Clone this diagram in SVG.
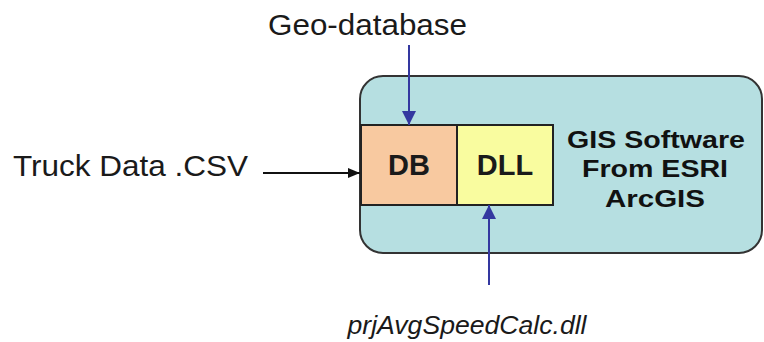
<svg xmlns="http://www.w3.org/2000/svg" width="764" height="342" viewBox="0 0 764 342">
<style>
.lbl{font-family:"Liberation Sans",Arial,sans-serif;fill:#1a1a1a}
.box{stroke:#222;stroke-width:2}
.blue{stroke:#3438a0;stroke-width:2;fill:none}
.blk{stroke:#111;stroke-width:2;fill:none}
</style>
<defs>
<marker id="ab" markerWidth="14" markerHeight="14" refX="14" refY="7" orient="auto" markerUnits="userSpaceOnUse" viewBox="0 0 14 14">
<path d="M0,0 L14,7 L0,14 Z" fill="#3438a0"/>
</marker>
<marker id="ak" markerWidth="12" markerHeight="10" refX="12" refY="5" orient="auto" markerUnits="userSpaceOnUse" viewBox="0 0 12 10">
<path d="M0,0 L12,5 L0,10 Z" fill="#111"/>
</marker>
</defs>
<rect width="764" height="342" fill="#fff"/>
<g id="gis">
<rect x="360" y="76" width="402" height="177" rx="23" ry="23" fill="#b6dfe1" stroke="#333" stroke-width="2"/>
<g font-family="Liberation Sans,Arial,sans-serif" font-weight="bold" font-size="23" fill="#111" text-anchor="middle">
<text x="656" y="148" textLength="178" lengthAdjust="spacingAndGlyphs">GIS Software</text>
<text x="655" y="177" textLength="146" lengthAdjust="spacingAndGlyphs">From ESRI</text>
<text x="655" y="207" textLength="100" lengthAdjust="spacingAndGlyphs">ArcGIS</text>
</g>
</g>
<g id="db">
<rect class="box" x="361" y="125" width="96" height="80" fill="#f8c9a0"/>
<text class="lbl" x="409" y="175" font-size="29" font-weight="bold" text-anchor="middle" fill="#111">DB</text>
</g>
<g id="dll">
<rect class="box" x="457" y="125" width="96" height="80" fill="#f9fc9f"/>
<text class="lbl" x="505" y="175" font-size="29" font-weight="bold" text-anchor="middle" fill="#111">DLL</text>
</g>
<g id="geo">
<text class="lbl" x="367.5" y="35" font-size="29" text-anchor="middle" textLength="199" lengthAdjust="spacingAndGlyphs">Geo-database</text>
</g>
<g id="truck">
<text class="lbl" x="13" y="176" font-size="29" textLength="235" lengthAdjust="spacingAndGlyphs">Truck Data .CSV</text>
</g>
<g id="prj">
<text class="lbl" x="467" y="334" font-size="26" font-style="italic" text-anchor="middle" textLength="239" lengthAdjust="spacingAndGlyphs">prjAvgSpeedCalc.dll</text>
</g>
<g id="connectors">
<line class="blue" x1="409" y1="45" x2="409" y2="125" marker-end="url(#ab)"/>
<line class="blue" x1="489" y1="285" x2="489" y2="205" marker-end="url(#ab)"/>
<line class="blk" x1="263" y1="173" x2="360" y2="173" marker-end="url(#ak)"/>
</g>
</svg>
